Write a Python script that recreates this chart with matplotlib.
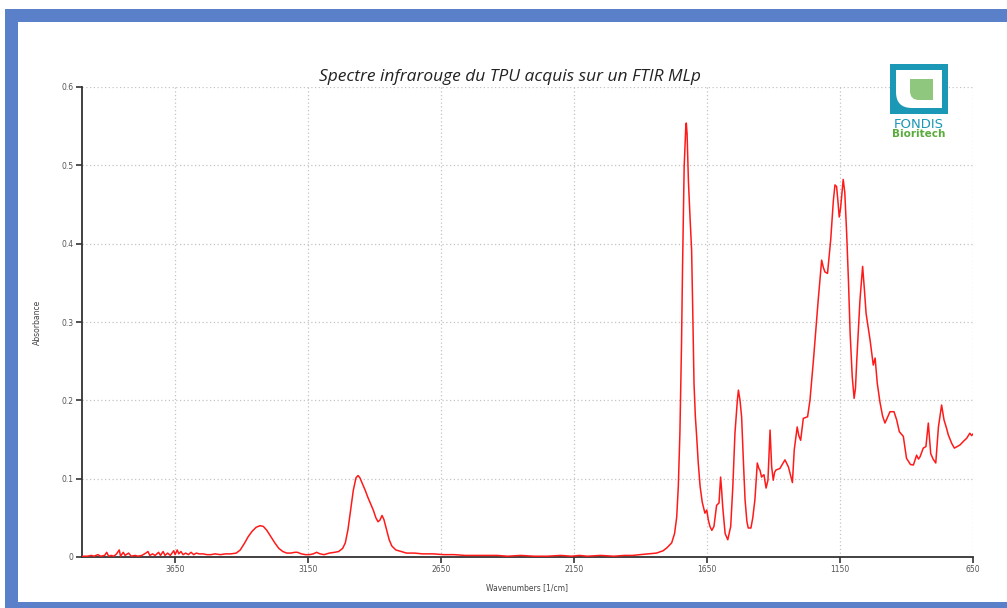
import matplotlib
matplotlib.use("Agg")
import matplotlib.pyplot as plt
from matplotlib.patches import Rectangle, PathPatch
from matplotlib.path import Path

# FTIR spectrum of TPU (wavenumber in 1/cm, absorbance)
wavenumbers = [
    4000, 3980, 3965, 3955, 3940, 3930, 3915, 3907, 3900, 3890, 3880, 3870,
    3860, 3855, 3845, 3838, 3825, 3815, 3800, 3790, 3775, 3760, 3752, 3745,
    3735, 3725, 3712, 3705, 3695, 3688, 3678, 3668, 3655, 3650, 3642, 3636,
    3628, 3620, 3610, 3600, 3590, 3580, 3570, 3560, 3545, 3530, 3515, 3500,
    3480, 3460, 3440, 3420, 3405, 3390, 3375, 3360, 3345, 3330, 3318, 3305,
    3290, 3275, 3260, 3245, 3230, 3215, 3200, 3190, 3175, 3160, 3145, 3130,
    3118, 3105, 3090, 3070, 3050, 3035, 3020, 3010, 3000, 2990, 2980, 2970,
    2962, 2955, 2945, 2935, 2925, 2915, 2905, 2895, 2887, 2880, 2872, 2865,
    2855, 2845, 2835, 2820, 2800, 2780, 2750, 2720, 2680, 2640, 2600, 2560,
    2520, 2480, 2440, 2400, 2350, 2300, 2250, 2200, 2160, 2130, 2100, 2050,
    2000, 1960, 1930, 1902, 1870, 1840, 1815, 1800, 1783, 1772, 1764, 1758,
    1752, 1746, 1742, 1736, 1730, 1728, 1725, 1720, 1714, 1708, 1704, 1699,
    1694, 1689, 1683, 1676, 1668, 1658, 1651, 1645, 1639, 1632, 1624, 1614,
    1605, 1599, 1595, 1591, 1582, 1572, 1561, 1553, 1545, 1536, 1532, 1526,
    1520, 1513, 1507, 1500, 1495, 1485, 1478, 1470, 1461, 1455, 1451, 1445,
    1440, 1436, 1428, 1421, 1413, 1407, 1401, 1396, 1391, 1376, 1357, 1344,
    1329, 1322, 1311, 1305, 1298, 1288, 1272, 1263, 1250, 1232, 1219, 1213,
    1207, 1197, 1185, 1175, 1169, 1163, 1158, 1153, 1148, 1144, 1138, 1132,
    1125, 1118, 1112, 1104, 1097, 1092, 1087, 1075, 1065, 1058, 1052, 1037,
    1025, 1018, 1010, 1000, 990, 981, 972, 962, 947, 937, 927, 912,
    900, 885, 874, 862, 855, 849, 837, 827, 818, 809, 800, 790,
    780, 768, 759, 750, 743, 730, 720, 699, 685, 674, 662, 655,
    650,
]
absorbance = [
    0.001, 0.001, 0.002, 0.001, 0.003, 0.001, 0.002, 0.006, 0.001, 0.002, 0.001, 0.004,
    0.009, 0.001, 0.006, 0.002, 0.005, 0.001, 0.002, 0.001, 0.002, 0.005, 0.007, 0.002,
    0.004, 0.002, 0.006, 0.002, 0.007, 0.002, 0.005, 0.002, 0.008, 0.003, 0.009, 0.004,
    0.007, 0.003, 0.005, 0.003, 0.006, 0.003, 0.005, 0.004, 0.004, 0.003, 0.003, 0.004,
    0.003, 0.004, 0.004, 0.005, 0.009, 0.017, 0.026, 0.033, 0.038, 0.040, 0.039, 0.034,
    0.026, 0.018, 0.011, 0.007, 0.005, 0.005, 0.006, 0.006, 0.004, 0.003, 0.003, 0.004,
    0.006, 0.004, 0.003, 0.005, 0.006, 0.007, 0.011, 0.018, 0.035, 0.060, 0.085, 0.101,
    0.104, 0.101, 0.093, 0.085, 0.076, 0.068, 0.060, 0.050, 0.045, 0.047, 0.053, 0.048,
    0.035, 0.022, 0.014, 0.009, 0.007, 0.005, 0.005, 0.004, 0.004, 0.003, 0.003, 0.002,
    0.002, 0.002, 0.002, 0.001, 0.002, 0.001, 0.001, 0.002, 0.001, 0.002, 0.001, 0.002,
    0.001, 0.002, 0.002, 0.003, 0.004, 0.005, 0.008, 0.012, 0.018, 0.030, 0.051, 0.090,
    0.158, 0.270, 0.371, 0.498, 0.548, 0.554, 0.540, 0.480, 0.434, 0.392, 0.320, 0.222,
    0.180, 0.154, 0.120, 0.090, 0.070, 0.056, 0.060, 0.047, 0.039, 0.034, 0.039, 0.066,
    0.069, 0.102, 0.085, 0.064, 0.030, 0.022, 0.039, 0.090, 0.158, 0.200, 0.213, 0.200,
    0.179, 0.120, 0.073, 0.045, 0.037, 0.037, 0.050, 0.073, 0.120, 0.113, 0.111, 0.102,
    0.104, 0.105, 0.088, 0.098, 0.162, 0.115, 0.098, 0.108, 0.111, 0.113, 0.124, 0.115,
    0.095, 0.137, 0.166, 0.155, 0.149, 0.177, 0.179, 0.200, 0.251, 0.328, 0.379, 0.370,
    0.364, 0.362, 0.405, 0.455, 0.475, 0.473, 0.455, 0.434, 0.445, 0.460, 0.482, 0.465,
    0.413, 0.350, 0.286, 0.230, 0.2025, 0.215, 0.251, 0.328, 0.371, 0.340, 0.311, 0.277,
    0.245, 0.254, 0.222, 0.198, 0.180, 0.171, 0.178, 0.1855, 0.1855, 0.175, 0.160, 0.154,
    0.126, 0.118, 0.1175, 0.130, 0.125, 0.128, 0.139, 0.141, 0.171, 0.132, 0.125, 0.120,
    0.166, 0.194, 0.175, 0.165, 0.156, 0.145, 0.139, 0.143, 0.148, 0.1515, 0.158, 0.155,
    0.157,
]

x_ticks = [3650, 3150, 2650, 2150, 1650, 1150, 650]
y_ticks = [0, 0.1, 0.2, 0.3, 0.4, 0.5, 0.6]
y_labels = ["0", "0.1", "0.2", "0.3", "0.4", "0.5", "0.6"]

W, H = 1007, 608
fig = plt.figure(figsize=(W / 100, H / 100), dpi=100)
fig.patch.set_facecolor("white")

# window frame
frame = "#5a80c9"
fig.patches.append(Rectangle((5 / W, 1 - 22 / H), 1, 13 / H, transform=fig.transFigure,
                             facecolor=frame, edgecolor="none", zorder=0))
fig.patches.append(Rectangle((5 / W, 0), 13 / W, 1 - 9 / H, transform=fig.transFigure,
                             facecolor=frame, edgecolor="none", zorder=0))
fig.patches.append(Rectangle((5 / W, 0), 1, 6 / H, transform=fig.transFigure,
                             facecolor=frame, edgecolor="none", zorder=0))

ax = fig.add_axes([82 / W, (H - 557) / H, (973 - 82) / W, (557 - 87) / H])
ax.plot(wavenumbers, absorbance, color="#ff1a1a", lw=1.1, zorder=3)

ax.set_xlim(4000, 650)
ax.set_ylim(0, 0.6)
ax.set_xticks(x_ticks)
ax.set_xticklabels([str(t) for t in x_ticks])
ax.set_yticks(y_ticks)
ax.set_yticklabels(y_labels)
ax.grid(True, linestyle=(0, (1, 2)), color="#c4c4c4", lw=0.9)
ax.set_axisbelow(True)
for s in ["top", "right"]:
    ax.spines[s].set_visible(False)
for s in ["left", "bottom"]:
    ax.spines[s].set_color("#333333")
    ax.spines[s].set_linewidth(1.3)
ax.tick_params(direction="out", length=4, width=1.2, color="#333333",
               labelsize=5.5, labelcolor="#555555", pad=2)
ax.set_xlabel("Wavenumbers [1/cm]", fontsize=5.5, color="#444444", labelpad=6)
ax.set_ylabel("Absorbance", fontsize=5.5, color="#444444", labelpad=14)

fig.text(510 / W, 1 - 77 / H, "Spectre infrarouge du TPU acquis sur un FTIR MLp",
         ha="center", va="center", fontsize=12.5, style="italic",
         family="Open Sans", color="#222222")

# logo
teal = "#1b98b6"
lg = fig.add_axes([890 / W, 1 - 114 / H, 58 / W, 50 / H])
lg.set_xlim(0, 58)
lg.set_ylim(0, 50)
lg.axis("off")
lg.add_patch(Rectangle((0, 0), 58, 50, facecolor=teal, edgecolor="none"))
r = 16
inner = Path([(6, 44), (52, 44), (52, 6), (6 + r, 6), (6, 6), (6, 6 + r), (6, 44)],
             [Path.MOVETO, Path.LINETO, Path.LINETO, Path.LINETO, Path.CURVE3,
              Path.CURVE3, Path.CLOSEPOLY])
lg.add_patch(PathPatch(inner, facecolor="white", edgecolor="none"))
g = 9
leaf = Path([(20, 35), (43, 35), (43, 14), (20 + g, 14), (20, 14), (20, 14 + g), (20, 35)],
            [Path.MOVETO, Path.LINETO, Path.LINETO, Path.LINETO, Path.CURVE3,
             Path.CURVE3, Path.CLOSEPOLY])
lg.add_patch(PathPatch(leaf, facecolor="#8fc77e", edgecolor="none"))

fig.text(919 / W, 1 - 124 / H, "FONDIS", ha="center", va="center", fontsize=9.5,
         color=teal, family="DejaVu Sans")
fig.text(919 / W, 1 - 134 / H, "Bioritech", ha="center", va="center", fontsize=7.5,
         color="#5aab3e", weight="bold", family="DejaVu Sans")

fig.savefig("out.png", dpi=100, facecolor="white")
